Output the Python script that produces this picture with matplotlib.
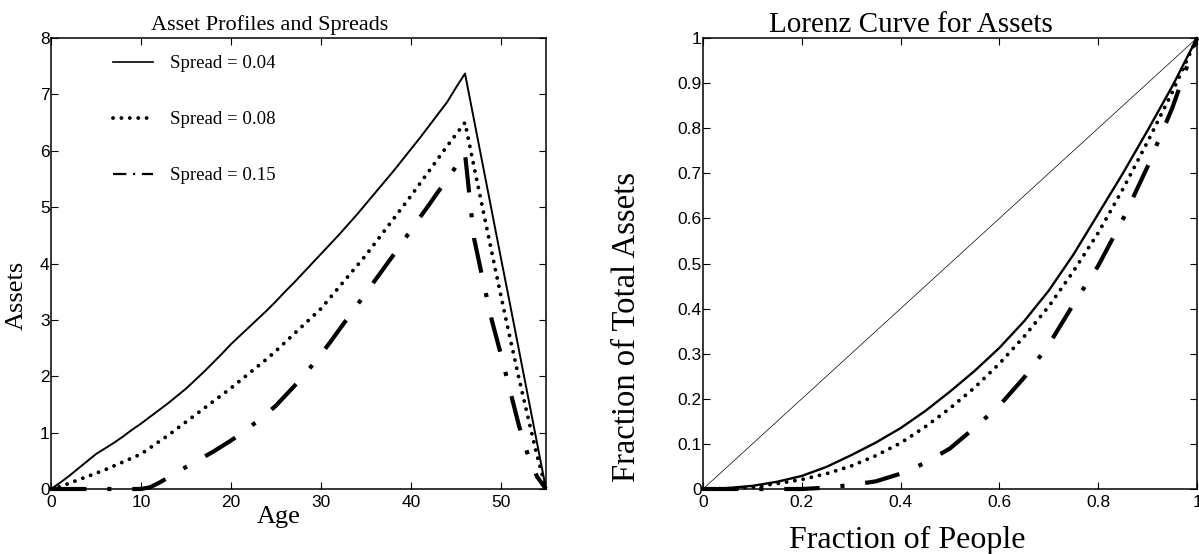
import matplotlib
matplotlib.use("Agg")
import matplotlib.pyplot as plt
from matplotlib.lines import Line2D

# ---------------- data ----------------
ages = list(range(0, 56))

assets_004 = [0.00, 0.11, 0.23, 0.36, 0.49, 0.62, 0.72, 0.82, 0.93, 1.05,
              1.16, 1.28, 1.40, 1.52, 1.65, 1.78, 1.93, 2.08, 2.24, 2.40,
              2.57, 2.72, 2.87, 3.02, 3.17, 3.33, 3.50, 3.66, 3.83, 4.00,
              4.17, 4.34, 4.51, 4.69, 4.87, 5.06, 5.25, 5.44, 5.63, 5.83,
              6.03, 6.23, 6.44, 6.65, 6.86, 7.12, 7.37, 6.55, 5.73, 4.91,
              4.09, 3.28, 2.46, 1.64, 0.82, 0.00]

assets_008 = [0.00, 0.04, 0.10, 0.16, 0.22, 0.28, 0.34, 0.41, 0.48, 0.55,
              0.62, 0.73, 0.84, 0.95, 1.07, 1.19, 1.31, 1.43, 1.55, 1.67,
              1.79, 1.92, 2.05, 2.18, 2.31, 2.45, 2.60, 2.75, 2.90, 3.05,
              3.20, 3.39, 3.58, 3.77, 3.96, 4.15, 4.36, 4.57, 4.78, 4.99,
              5.20, 5.42, 5.64, 5.86, 6.08, 6.29, 6.50, 5.72, 4.95, 4.18,
              3.42, 2.68, 1.96, 1.27, 0.60, 0.00]

assets_015 = [0.00, 0.00, 0.00, 0.00, 0.00, 0.00, 0.00, 0.00, 0.00, 0.00,
              0.00, 0.03, 0.11, 0.20, 0.30, 0.39, 0.48, 0.57, 0.66, 0.76,
              0.86, 0.97, 1.09, 1.21, 1.34, 1.48, 1.65, 1.82, 2.00, 2.19,
              2.39, 2.60, 2.82, 3.04, 3.26, 3.48, 3.70, 3.92, 4.14, 4.37,
              4.59, 4.82, 5.04, 5.27, 5.49, 5.72, 5.95, 4.45, 3.70, 2.98,
              2.38, 1.75, 1.12, 0.60, 0.22, 0.00]

people = [0.00, 0.05, 0.10, 0.15, 0.20, 0.25, 0.30, 0.35, 0.40, 0.45, 0.50,
          0.55, 0.60, 0.65, 0.70, 0.75, 0.80, 0.85, 0.90, 0.95, 1.00]

lorenz_004 = [0.000, 0.002, 0.007, 0.016, 0.029, 0.049, 0.075, 0.103, 0.135,
              0.173, 0.216, 0.262, 0.313, 0.372, 0.440, 0.520, 0.610, 0.700,
              0.795, 0.893, 1.000]
lorenz_008 = [0.000, 0.001, 0.004, 0.012, 0.021, 0.034, 0.051, 0.074, 0.102,
              0.138, 0.179, 0.225, 0.278, 0.338, 0.405, 0.483, 0.568, 0.665,
              0.770, 0.880, 1.000]
lorenz_015 = [0.000, 0.000, 0.000, 0.000, 0.000, 0.003, 0.009, 0.017, 0.034,
              0.058, 0.090, 0.136, 0.185, 0.247, 0.320, 0.410, 0.495, 0.598,
              0.715, 0.845, 1.000]

equality = [0.0, 1.0]

labels = ["Spread = 0.04", "Spread = 0.08", "Spread = 0.15"]
age_ticks = [0, 10, 20, 30, 40, 50]
asset_ticks = [0, 1, 2, 3, 4, 5, 6, 7, 8]
frac_x_ticks = [0, 0.2, 0.4, 0.6, 0.8, 1]
frac_x_labels = ["0", "0.2", "0.4", "0.6", "0.8", "1"]
frac_y_ticks = [0, 0.1, 0.2, 0.3, 0.4, 0.5, 0.6, 0.7, 0.8, 0.9, 1]
frac_y_labels = ["0", "0.1", "0.2", "0.3", "0.4", "0.5", "0.6", "0.7", "0.8", "0.9", "1"]

# ---------------- style ----------------
SERIF = "Liberation Serif"
SANS = "Liberation Sans"
plt.rcParams["font.family"] = SANS

solid_kw = dict(color="black", lw=1.4, linestyle="-")
dot_kw = dict(color="black", lw=2.8, linestyle=(0, (0.01, 2.15)),
              dash_capstyle="round")
dashdot_kw = dict(color="black", lw=3.0, linestyle=(0, (8.5, 5.0, 1.0, 5.0)),
                  dash_capstyle="butt")

fig = plt.figure(figsize=(11.99, 5.54), dpi=100)
ax1 = fig.add_axes([51 / 1199, 1 - 489 / 554, 495 / 1199, 451 / 554])
ax2 = fig.add_axes([703 / 1199, 1 - 489 / 554, 494 / 1199, 451 / 554])


def style_axes(ax):
    for s in ax.spines.values():
        s.set_linewidth(1.1)
    ax.tick_params(direction="in", length=5, width=0.8, top=True, right=True,
                   labelsize=12.5)
    ax.tick_params(axis="y", pad=1)
    ax.tick_params(axis="x", pad=4)


# ---------------- left panel ----------------
ax1.plot(ages, assets_004, clip_on=False, **solid_kw)
ax1.plot(ages, assets_008, clip_on=False, **dot_kw)
ax1.plot(ages, assets_015, clip_on=False, **dashdot_kw)
ax1.set_xlim(0, 55)
ax1.set_ylim(0, 8)
ax1.set_xticks(age_ticks)
ax1.set_yticks(asset_ticks)
style_axes(ax1)

ax1.set_title("Asset Profiles and Spreads", family=SERIF, fontsize=16,
              x=0.442, pad=6)
ax1.set_xlabel("Age", family=SERIF, fontsize=19)
ax1.xaxis.set_label_coords(0.46, -0.037)
ax1.set_ylabel("Assets", family=SERIF, fontsize=19)
ax1.yaxis.set_label_coords(-0.048, 0.43)

handles = [
    Line2D([], [], color="black", lw=1.2, linestyle="-"),
    Line2D([], [], **dot_kw),
    Line2D([], [], color="black", lw=1.6, linestyle=(0, (6, 3, 1, 3)),
           dash_capstyle="butt"),
]
ax1.legend(handles, labels, loc="upper left", bbox_to_anchor=(0.125, 0.962),
           frameon=False, prop=dict(family=SERIF, size=13.6),
           handlelength=2.1, handletextpad=0.9, labelspacing=2.05,
           borderpad=0, borderaxespad=0)

# ---------------- right panel ----------------
ax2.plot(equality, equality, color="black", lw=0.5)
ax2.plot(people, lorenz_004, clip_on=False, **{**solid_kw, "lw": 1.7})
ax2.plot(people, lorenz_008, clip_on=False, **dot_kw)
ax2.plot(people, lorenz_015, clip_on=False, **dashdot_kw)
ax2.set_xlim(0, 1)
ax2.set_ylim(0, 1)
ax2.set_xticks(frac_x_ticks, frac_x_labels)
ax2.set_yticks(frac_y_ticks, frac_y_labels)
style_axes(ax2)

ax2.set_title("Lorenz Curve for Assets", family=SERIF, fontsize=21,
              x=0.42, pad=4)
ax2.set_xlabel("Fraction of People", family=SERIF, fontsize=23)
ax2.xaxis.set_label_coords(0.413, -0.083)
ax2.set_ylabel("Fraction of Total Assets", family=SERIF, fontsize=23.5)
ax2.yaxis.set_label_coords(-0.124, 0.36)

fig.savefig("out.png", dpi=100)
